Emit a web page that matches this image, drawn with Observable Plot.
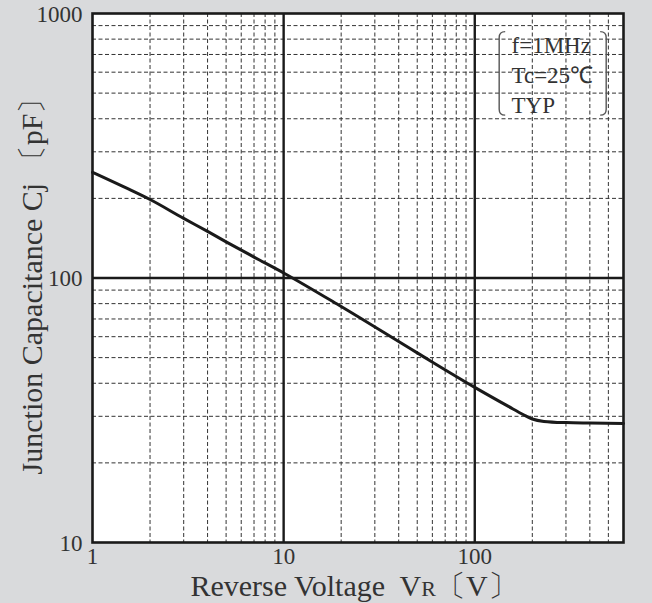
<!DOCTYPE html>
<html><head><meta charset="utf-8">
<script src="https://cdn.jsdelivr.net/npm/d3@7"></script>
<script src="https://cdn.jsdelivr.net/npm/@observablehq/plot@0.6"></script>
<style>
html,body{margin:0;padding:0;background:#d9dadc;overflow:hidden;}
#chart svg{display:block;}
</style></head><body><div id="chart"></div>
<script>
// Data
const voltage = [1, 1.5, 2, 3, 4, 5, 7, 10, 20, 50, 100, 150, 180, 200, 230, 300, 400, 600];
const capacitance = [251, 219, 198, 168, 150, 137, 120, 104.5, 78, 52.1, 38.6, 32.7, 30.4, 29.3, 28.7, 28.4, 28.3, 28.2];
const xTicks = [1, 10, 100, 600];
const yTicks = [10, 100, 1000];
const xMinor = [2, 3, 4, 5, 6, 7, 8, 9, 20, 30, 40, 50, 60, 70, 80, 90, 200, 300, 400, 500];
const yMinor = [20, 30, 40, 50, 60, 70, 80, 90, 200, 300, 400, 500, 600, 700, 800, 900];
const xMajor = [10, 100];
const yMajor = [100];
const conditions = ["f=1MHz", "Tc=25℃", "TYP"];
const bracketV = [135, 490];
const bracketC = [411, 850];

const data = voltage.map((v, i) => ({v, c: capacitance[i]}));

const serif = "'Liberation Serif', 'Times New Roman', serif";

const plot = Plot.plot({
  width: 652,
  height: 603,
  marginLeft: 92,
  marginRight: 29,
  marginTop: 13,
  marginBottom: 61,
  style: {background: "transparent", fontFamily: serif, fontSize: "23px", color: "#333"},
  x: {type: "log", domain: [1, 600], label: null},
  y: {type: "log", domain: [10, 1000], label: null},
  marks: [
    Plot.frame({fill: "white", stroke: "none"}),
    Plot.ruleX(xMinor, {stroke: "#333", strokeWidth: 1, strokeDasharray: "4,2.5"}),
    Plot.ruleY(yMinor, {stroke: "#333", strokeWidth: 1, strokeDasharray: "4,2.5"}),
    Plot.ruleX(xMajor, {stroke: "#1a1a1a", strokeWidth: 2.4}),
    Plot.ruleY(yMajor, {stroke: "#1a1a1a", strokeWidth: 2.4}),
    Plot.axisX(xTicks, {tickSize: 0, tickPadding: 5, tickFormat: d => String(d), label: null, fill: "#333"}),
    Plot.axisY(yTicks, {tickSize: 0, tickPadding: 10, tickFormat: d => String(d), label: null, fill: "#333", dy: 1}),
    Plot.line(data, {x: "v", y: "c", stroke: "#1a1a1a", strokeWidth: 3, curve: "monotone-x"}),
    Plot.text([conditions.join("\n")], {
      frameAnchor: "top-right", textAnchor: "start", lineAnchor: "top",
      dx: -112, dy: 18, lineHeight: 1.3, fontSize: 23, fill: "#333", fontFamily: serif
    }),
    Plot.frame({stroke: "#1a1a1a", strokeWidth: 2.6})
  ]
});

document.getElementById("chart").appendChild(plot);

const svg = d3.select(plot);
const sx = plot.scale("x"), sy = plot.scale("y");
const xl = sx.apply(bracketV[0]), xr = sx.apply(bracketV[1]);
const yt = sy.apply(bracketC[1]), yb = sy.apply(bracketC[0]);
const h = 6;
svg.append("path")
  .attr("d", `M${xl + h},${yt} Q${xl},${yt} ${xl},${yt + h} L${xl},${yb - h} Q${xl},${yb} ${xl + h},${yb}`)
  .attr("fill", "none").attr("stroke", "#555").attr("stroke-width", 1.4);
svg.append("path")
  .attr("d", `M${xr - h},${yt} Q${xr},${yt} ${xr},${yt + h} L${xr},${yb - h} Q${xr},${yb} ${xr - h},${yb}`)
  .attr("fill", "none").attr("stroke", "#555").attr("stroke-width", 1.4);

// Axis titles
const xt = svg.append("text")
  .attr("x", 354).attr("y", 596)
  .attr("text-anchor", "middle")
  .attr("font-family", serif).attr("font-size", 30).attr("fill", "#333");
xt.append("tspan").text("Reverse Voltage  V");
xt.append("tspan").attr("font-size", 22).text("R");
xt.append("tspan").text("〔V〕");

svg.append("text")
  .attr("transform", "translate(42,279) rotate(-90)")
  .attr("text-anchor", "middle")
  .attr("font-family", serif).attr("font-size", 30).attr("fill", "#333")
  .text("Junction Capacitance Cj 〔pF〕");
</script>
</body></html>
